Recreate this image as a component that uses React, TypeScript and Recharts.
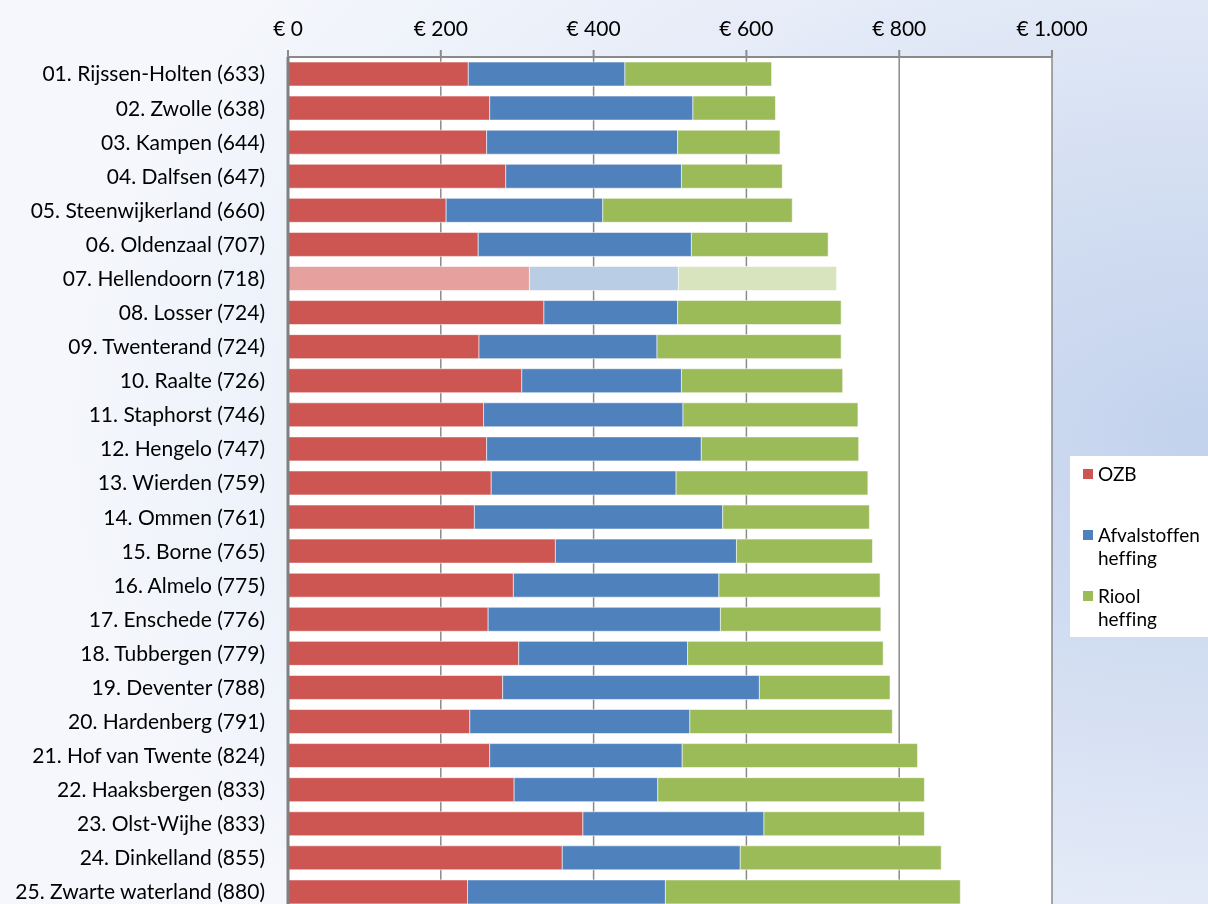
import React from "react";
import { BarChart, Bar, XAxis, YAxis, CartesianGrid, Legend, Cell } from "recharts";

const categories = [
  "01. Rijssen-Holten (633)",
  "02. Zwolle (638)",
  "03. Kampen (644)",
  "04. Dalfsen (647)",
  "05. Steenwijkerland (660)",
  "06. Oldenzaal (707)",
  "07. Hellendoorn (718)",
  "08. Losser (724)",
  "09. Twenterand (724)",
  "10. Raalte (726)",
  "11. Staphorst (746)",
  "12. Hengelo (747)",
  "13. Wierden (759)",
  "14. Ommen (761)",
  "15. Borne (765)",
  "16. Almelo (775)",
  "17. Enschede (776)",
  "18. Tubbergen (779)",
  "19. Deventer (788)",
  "20. Hardenberg (791)",
  "21. Hof van Twente (824)",
  "22. Haaksbergen (833)",
  "23. Olst-Wijhe (833)",
  "24. Dinkelland (855)",
  "25. Zwarte waterland (880)",
];

const ozb = [236, 264, 260, 285, 207, 249, 316, 335, 250, 306, 256, 260, 266, 244, 350, 295, 262, 302, 281, 238, 264, 296, 386, 359, 235];
const afval = [205, 266, 250, 230, 205, 279, 195, 175, 233, 209, 261, 281, 242, 325, 237, 269, 304, 221, 336, 288, 252, 188, 237, 233, 259];
const riool = [192, 108, 134, 132, 248, 179, 207, 214, 241, 211, 229, 206, 251, 192, 178, 211, 210, 256, 171, 265, 308, 349, 210, 263, 386];

const xTicks = [0, 200, 400, 600, 800, 1000];
const highlighted = "07. Hellendoorn (718)";

const seriesNames = ["OZB", "Afvalstoffen heffing", "Riool heffing"];

const data = categories.map((name, i) => ({
  name,
  ozb: ozb[i],
  afval: afval[i],
  riool: riool[i],
}));

const COLORS = {
  ozb: "#CD5653",
  afval: "#4F81BD",
  riool: "#9BBB59",
};
const LIGHT = {
  ozb: "#E6A19F",
  afval: "#B9CDE5",
  riool: "#D8E4BD",
};

const FONT = "Lato, 'Open Sans', sans-serif";

const fmt = (v: number) => {
  if (v >= 1000) {
    const th = Math.floor(v / 1000);
    const rest = String(v % 1000).padStart(3, "0");
    return `€ ${th}.${rest}`;
  }
  return `€ ${v}`;
};

const LegendBox = () => {
  const item = (color: string, lines: string[], top: number) => (
    <div style={{ position: "absolute", left: 13, top, display: "flex", alignItems: "flex-start" }}>
      <div style={{ width: 10, height: 10, background: color, marginTop: 7, marginRight: 5 }} />
      <div style={{ lineHeight: "23px", fontSize: 19, color: "#000", fontFamily: FONT, fontVariantLigatures: "none" }}>
        {lines.map((l) => (
          <div key={l}>{l}</div>
        ))}
      </div>
    </div>
  );
  return (
    <div style={{ position: "relative", width: 140, height: 181, background: "#fff" }}>
      {item(COLORS.ozb, ["OZB"], 6)}
      {item(COLORS.afval, ["Afvalstoffen", "heffing"], 67)}
      {item(COLORS.riool, ["Riool", "heffing"], 128)}
    </div>
  );
};

export default function App() {
  return (
    <div
      style={{
        position: "fixed",
        left: 0,
        top: 0,
        width: 1208,
        height: 904,
        overflow: "hidden",
        background:
          "radial-gradient(ellipse 95% 85% at 100% 48%, #c3d2ed 0%, #d4dff2 35%, #e6ecf8 65%, #f5f7fc 100%)",
      }}
    >
      <BarChart
        width={1208}
        height={909}
        data={data}
        layout="vertical"
        margin={{ top: 0, right: 16, left: 0, bottom: 0 }}
        barSize={24}
        style={{ fontFamily: FONT }}
      >
        <CartesianGrid
          horizontal={false}
          vertical={true}
          fill="#ffffff"
          stroke="#8a8a8a"
          strokeWidth={1.5}
        />
        <XAxis
          type="number"
          orientation="top"
          domain={[0, 1000]}
          ticks={xTicks}
          tickFormatter={fmt}
          height={57}
          tickSize={7}
          tickMargin={14}
          axisLine={{ stroke: "#8a8a8a", strokeWidth: 2 }}
          tickLine={{ stroke: "#8a8a8a", strokeWidth: 2 }}
          tick={{ fill: "#000", fontSize: 21, fontFamily: FONT }}
          interval={0}
        />
        <YAxis
          type="category"
          dataKey="name"
          width={288}
          tickSize={0}
          tickMargin={23}
          tickLine={false}
          axisLine={{ stroke: "#808080", strokeWidth: 3 }}
          tick={{ fill: "#000", fontSize: 21, fontFamily: FONT }}
          interval={0}
        />
        <Legend
          layout="vertical"
          align="right"
          verticalAlign="top"
          content={() => <LegendBox />}
          wrapperStyle={{ position: "absolute", left: 1070, top: 456, width: 140, height: 181 }}
        />
        <Bar dataKey="ozb" name={seriesNames[0]} stackId="a" fill={COLORS.ozb} stroke="#ffffff" strokeOpacity={0.55} strokeWidth={1} isAnimationActive={false}>
          {data.map((d) => (
            <Cell key={d.name} fill={d.name === highlighted ? LIGHT.ozb : COLORS.ozb} />
          ))}
        </Bar>
        <Bar dataKey="afval" name={seriesNames[1]} stackId="a" fill={COLORS.afval} stroke="#ffffff" strokeOpacity={0.55} strokeWidth={1} isAnimationActive={false}>
          {data.map((d) => (
            <Cell key={d.name} fill={d.name === highlighted ? LIGHT.afval : COLORS.afval} />
          ))}
        </Bar>
        <Bar dataKey="riool" name={seriesNames[2]} stackId="a" fill={COLORS.riool} stroke="#ffffff" strokeOpacity={0.55} strokeWidth={1} isAnimationActive={false}>
          {data.map((d) => (
            <Cell key={d.name} fill={d.name === highlighted ? LIGHT.riool : COLORS.riool} />
          ))}
        </Bar>
      </BarChart>
    </div>
  );
}
